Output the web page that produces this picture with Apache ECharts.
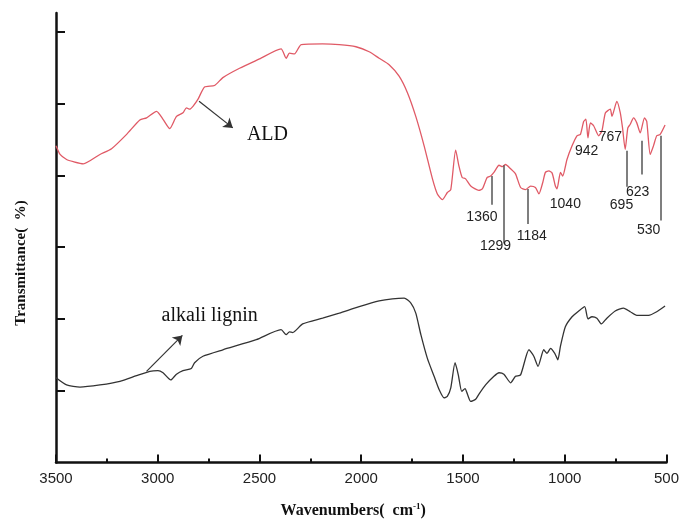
<!DOCTYPE html>
<html>
<head>
<meta charset="utf-8">
<script src="https://cdn.jsdelivr.net/npm/echarts@6/dist/echarts.min.js"></script>
<style>html,body{margin:0;padding:0;background:#fff}#c{width:682px;height:524px}</style>
</head>
<body>
<div id="c"></div>
<script>
// ---- data (wavenumber in cm-1, transmittance in arbitrary offset units) ----
var aldWavenumbers = [3500,3480,3448,3415,3366,3284,3227,3153,3088,3055,3006,2974,2941,2908,2876,2859,2843,2827,2802,2770,2721,2680,2598,2500,2394,2369,2353,2328,2295,2190,2108,2026,1961,1912,1863,1814,1773,1732,1691,1650,1626,1601,1577,1560,1536,1520,1504,1487,1462,1422,1405,1381,1364,1348,1323,1307,1291,1266,1242,1217,1193,1168,1144,1127,1108,1095,1078,1062,1046,1038,1021,1010,989,964,940,923,907,896,886,874,858,833,817,800,776,768,744,727,716,703,690,678,662,646,629,608,597,580,564,548,531,507];
var aldValues = [4.41,4.29,4.22,4.19,4.16,4.29,4.37,4.57,4.77,4.80,4.89,4.78,4.65,4.82,4.87,4.94,4.92,4.96,5.06,5.23,5.25,5.36,5.49,5.62,5.76,5.63,5.70,5.69,5.82,5.83,5.82,5.79,5.72,5.63,5.54,5.38,5.15,4.82,4.41,3.95,3.74,3.66,3.76,3.80,4.35,4.13,3.97,3.95,3.85,3.79,3.81,3.97,3.99,4.04,4.14,4.12,4.15,4.09,4.02,3.83,3.80,3.85,3.83,3.74,3.90,4.04,4.06,4.03,3.85,3.81,4.04,3.99,4.22,4.41,4.55,4.57,4.75,4.78,4.52,4.73,4.69,4.55,4.62,4.87,4.92,4.82,5.03,4.87,4.66,4.36,4.66,4.71,4.80,4.73,4.59,4.80,4.75,4.29,4.41,4.55,4.57,4.70];

var ligninWavenumbers = [3500,3448,3382,3284,3186,3104,3039,2999,2974,2936,2908,2876,2835,2819,2778,2680,2516,2394,2369,2353,2337,2288,2190,2108,2010,1912,1847,1789,1756,1732,1707,1675,1642,1618,1593,1577,1560,1539,1523,1506,1490,1478,1462,1438,1422,1389,1348,1323,1299,1266,1242,1217,1176,1152,1131,1103,1087,1070,1049,1034,1021,997,964,931,902,886,866,842,820,793,752,711,678,646,588,548,507];
var ligninValues = [1.18,1.08,1.05,1.08,1.13,1.21,1.27,1.28,1.25,1.15,1.23,1.28,1.31,1.39,1.48,1.57,1.71,1.85,1.78,1.82,1.81,1.93,2.01,2.08,2.17,2.25,2.28,2.29,2.22,2.08,1.78,1.45,1.20,1.02,0.90,0.92,1.04,1.39,1.22,0.99,1.03,0.95,0.85,0.88,0.95,1.08,1.20,1.25,1.23,1.11,1.20,1.22,1.57,1.48,1.34,1.57,1.52,1.59,1.52,1.43,1.62,1.89,2.03,2.11,2.17,2.00,2.03,2.01,1.93,2.01,2.11,2.15,2.10,2.05,2.05,2.10,2.18];

var xTickValues = [3500,3000,2500,2000,1500,1000,500];

// ---- annotations (in data coordinates) ----
var peakLabels   = ['1360','1299','1184','1040','942','767','695','623','530'];
var peakLabelWn  = [1407,1340,1162,997,892,776,721,642,588];
var peakLabelV   = [3.42,3.01,3.15,3.60,4.33,4.53,3.58,3.77,3.23];
var peakLineWn   = [1360,1299,1184,695,623,530];
var peakLineTop  = [3.99,4.14,3.81,4.34,4.48,4.55];
var peakLineBot  = [3.59,3.05,3.32,3.84,4.01,3.37];

function zip(a, b) { return a.map(function (v, i) { return [v, b[i]]; }); }

var peakMarkLines = peakLineWn.map(function (w, i) {
  return [{ coord: [w, peakLineTop[i]] }, { coord: [w, peakLineBot[i]] }];
});
var peakMarkPoints = peakLabels.map(function (t, i) {
  return { name: t, coord: [peakLabelWn[i], peakLabelV[i]] };
});

var chart = echarts.init(document.getElementById('c'), null, { renderer: 'canvas' });
var axisColor = '#111';
chart.setOption({
  animation: false,
  backgroundColor: '#fff',
  grid: { left: 56, right: 14, top: 13, bottom: 59, containLabel: false },
  xAxis: {
    type: 'value', inverse: true, min: 500, max: 3500, interval: 500,
    axisLine: { show: true, onZero: false, lineStyle: { color: axisColor, width: 2.5 } },
    axisTick: { show: true, inside: true, length: 8, lineStyle: { color: axisColor, width: 2 } },
    minorTick: { show: true, splitNumber: 2, length: 4, lineStyle: { color: axisColor, width: 2 } },
    splitLine: { show: false },
    axisLabel: {
      show: true, margin: 9, color: '#222', fontFamily: 'Liberation Sans', fontSize: 15,
      customValues: xTickValues,
      formatter: function (v) { return String(v); }
    },
    name: '{a|Wavenumbers(  cm}{s|-1}{a|)}',
    nameLocation: 'middle', nameGap: 40,
    nameTextStyle: {
      padding: [0, 16, 0, 0],
      rich: {
        a: { fontFamily: 'Liberation Serif', fontWeight: 'bold', fontSize: 16, color: '#111' },
        s: { fontFamily: 'Liberation Serif', fontWeight: 'bold', fontSize: 9, color: '#111', verticalAlign: 'top', padding: [0, 0, 8, 0] }
      }
    }
  },
  yAxis: {
    type: 'value', min: 0, max: 6.26,
    axisLine: { show: true, onZero: false, lineStyle: { color: axisColor, width: 2.5 } },
    axisTick: { show: true, inside: true, length: 9, customValues: [1, 2, 3, 4, 5, 6], lineStyle: { color: axisColor, width: 2 } },
    axisLabel: { show: false },
    splitLine: { show: false }
  },
  graphic: [{
    type: 'text', x: 21, y: 263, rotation: Math.PI / 2,
    style: { text: 'Transmittance(  %)', fontFamily: 'Liberation Serif', fontWeight: 'bold', fontSize: 15, fill: '#111', align: 'center', verticalAlign: 'middle' }
  }],
  series: [
    {
      name: 'ALD', type: 'line', data: zip(aldWavenumbers, aldValues),
      showSymbol: false, smooth: 0.2, lineStyle: { color: '#e05a66', width: 1.3 }, z: 3,
      markLine: {
        silent: true, symbol: ['none', 'none'], animation: false,
        lineStyle: { color: '#555', width: 1.5, type: 'solid' }, label: { show: false },
        data: peakMarkLines.concat([
          [{ coord: [2797, 5.03] }, { coord: [2631, 4.66], symbol: 'arrow', symbolSize: 9, lineStyle: { color: '#333', width: 1.2 } }]
        ])
      },
      markPoint: {
        silent: true, symbol: 'circle', symbolSize: 0, animation: false,
        label: { show: true, position: 'inside', formatter: '{b}', color: '#222', fontFamily: 'Liberation Sans', fontSize: 14 },
        data: peakMarkPoints.concat([
          { name: 'ALD', coord: [2461, 4.57], label: { fontFamily: 'Liberation Serif', fontSize: 20, color: '#111' } }
        ])
      }
    },
    {
      name: 'alkali lignin', type: 'line', data: zip(ligninWavenumbers, ligninValues),
      showSymbol: false, smooth: 0.2, lineStyle: { color: '#333', width: 1.3 }, z: 3,
      markLine: {
        silent: true, symbol: ['none', 'arrow'], symbolSize: 9, animation: false,
        lineStyle: { color: '#333', width: 1.2, type: 'solid' }, label: { show: false },
        data: [[{ coord: [3055, 1.27] }, { coord: [2879, 1.77] }]]
      },
      markPoint: {
        silent: true, symbol: 'circle', symbolSize: 0, animation: false,
        label: { show: true, position: 'inside', formatter: '{b}', color: '#111', fontFamily: 'Liberation Serif', fontSize: 20 },
        data: [{ name: 'alkali lignin', coord: [2745, 2.04] }]
      }
    }
  ]
});
</script>
</body>
</html>
